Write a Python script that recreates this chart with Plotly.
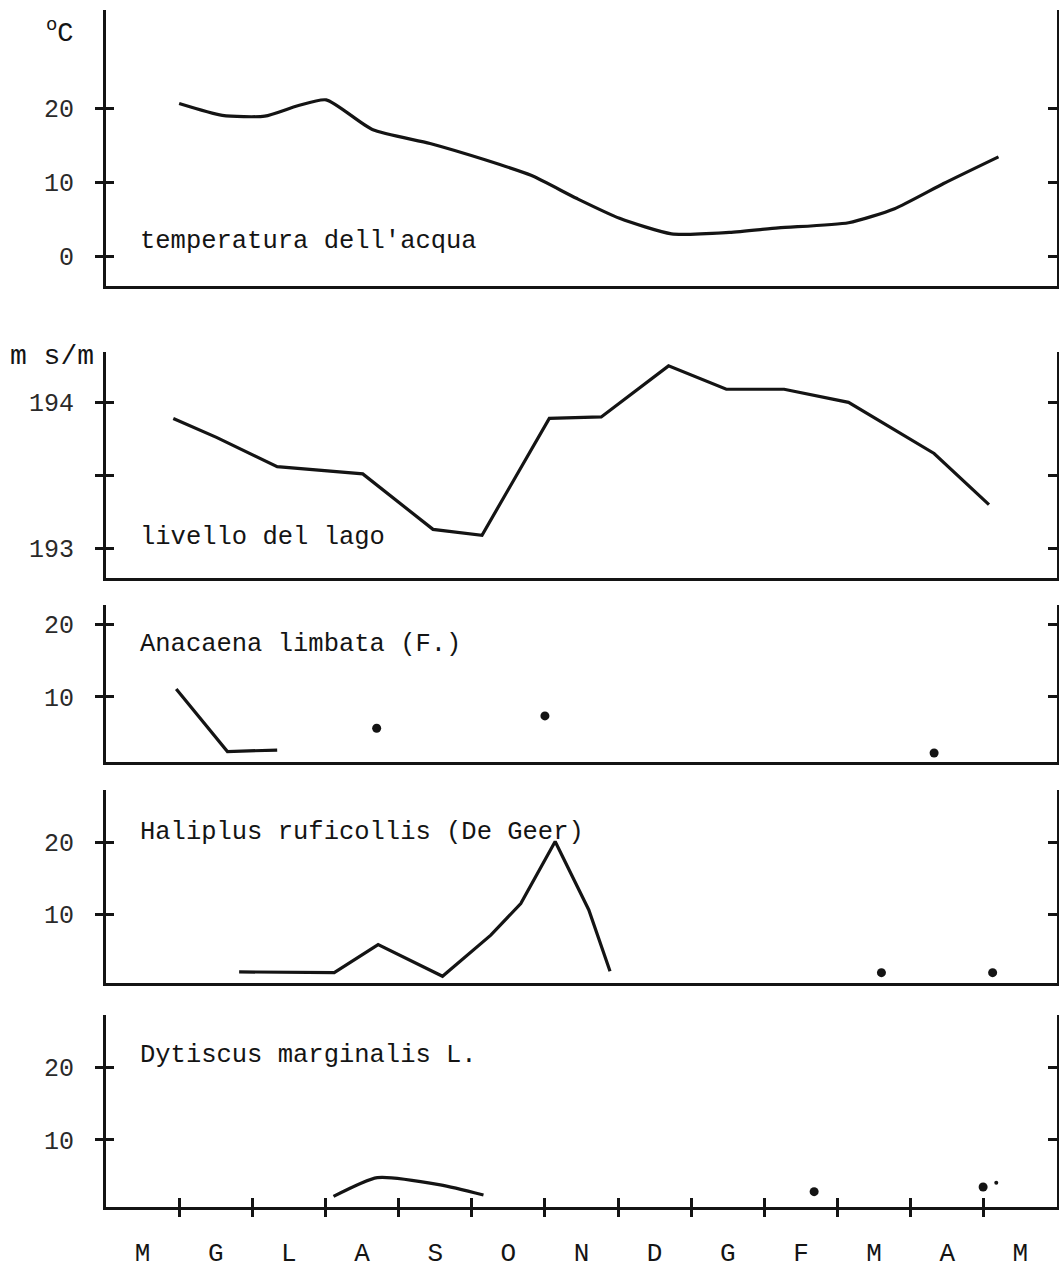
import plotly.graph_objects as go

# ---------------- data ----------------
MONTHS = ["M", "G", "L", "A", "S", "O", "N", "D", "G", "F", "M", "A", "M"]
MONTH_POS = [i + 0.5 for i in range(13)]
BOUNDARIES = list(range(1, 13))

temp_x = [1.00, 1.59, 2.17, 2.62, 3.01, 3.64, 4.43, 5.18, 5.81, 6.43, 7.02, 7.73, 8.52, 9.19, 10.15, 10.78, 11.45, 12.20]
temp_y = [20.6, 19.0, 18.9, 20.3, 21.1, 17.1, 15.2, 13.0, 10.9, 7.8, 5.1, 3.0, 3.2, 3.8, 4.5, 6.4, 9.8, 13.4]

lake_x = [0.92, 1.51, 2.34, 3.51, 4.47, 5.14, 6.06, 6.77, 7.69, 8.48, 9.27, 10.15, 11.32, 12.07]
lake_y = [193.89, 193.76, 193.56, 193.51, 193.13, 193.09, 193.89, 193.90, 194.25, 194.09, 194.09, 194.00, 193.65, 193.30]

ana_line_x = [0.96, 1.66, 2.34]
ana_line_y = [11.1, 2.5, 2.7]
ana_dot_x = [3.70, 6.00, 11.32]
ana_dot_y = [5.7, 7.4, 2.3]

hal_line_x = [1.82, 3.12, 3.72, 4.60, 5.26, 5.67, 6.14, 6.60, 6.89]
hal_line_y = [2.0, 1.9, 5.8, 1.4, 7.1, 11.5, 20.1, 10.6, 2.1]
hal_dot_x = [10.60, 12.12]
hal_dot_y = [1.9, 1.9]

dyt_line_x = [3.11, 3.71, 4.57, 5.16]
dyt_line_y = [2.2, 4.8, 3.8, 2.4]
dyt_dot_x = [9.68, 11.99]
dyt_dot_y = [2.85, 3.5]
dyt_speck_x = [12.17]
dyt_speck_y = [4.1]

# ---------------- layout helpers ----------------
W, H = 1059, 1268
ML, MR = 106, 2
PW = W - ML - MR
INK = "#141414"
FONT = "Liberation Mono"


def ydom(top_px, bot_px):
    return [1 - bot_px / H, 1 - top_px / H]


def px_x(px):
    return (px - ML) / PW


panels = [
    dict(dom=ydom(10, 286), rng=[-4.05, 33.24], tv=[0, 10, 20], tt=["0", "10", "20"],
         label="temperatura dell'acqua", ly=2.0),
    dict(dom=ydom(352, 578), rng=[192.797, 194.345], tv=[193, 193.5, 194], tt=["193", " ", "194"],
         label="livello del lago", ly=193.077),
    dict(dom=ydom(605, 762), rng=[1.06, 22.65], tv=[10, 20], tt=["10", "20"],
         label="Anacaena limbata (F.)", ly=17.15),
    dict(dom=ydom(790, 983), rng=[0.46, 27.26], tv=[10, 20], tt=["10", "20"],
         label="Haliplus ruficollis (De Geer)", ly=21.3),
    dict(dom=ydom(1015, 1207), rng=[0.73, 27.29], tv=[10, 20], tt=["10", "20"],
         label="Dytiscus marginalis L.", ly=21.75),
]

fig = go.Figure()

line_style = dict(color=INK, width=3.2)


def add_line(x, y, i, shape="linear"):
    fig.add_trace(go.Scatter(x=x, y=y, mode="lines", line=dict(**line_style, shape=shape, smoothing=0.6),
                             xaxis=f"x{i}", yaxis=f"y{i}", showlegend=False, hoverinfo="skip"))


def add_dots(x, y, i, size=9):
    fig.add_trace(go.Scatter(x=x, y=y, mode="markers", marker=dict(color=INK, size=size),
                             xaxis=f"x{i}", yaxis=f"y{i}", showlegend=False, hoverinfo="skip"))


add_line(temp_x, temp_y, 1, "spline")
add_line(lake_x, lake_y, 2)
add_line(ana_line_x, ana_line_y, 3)
add_dots(ana_dot_x, ana_dot_y, 3)
add_line(hal_line_x, hal_line_y, 4)
add_dots(hal_dot_x, hal_dot_y, 4)
add_line(dyt_line_x, dyt_line_y, 5, "spline")
add_dots(dyt_dot_x, dyt_dot_y, 5)
add_dots(dyt_speck_x, dyt_speck_y, 5, size=4)

layout = dict(
    width=W, height=H,
    margin=dict(l=ML, r=MR, t=0, b=0),
    paper_bgcolor="white", plot_bgcolor="white",
    showlegend=False,
    font=dict(family=FONT, color=INK, size=24),
)

annotations = []
for i, p in enumerate(panels, start=1):
    sfx = "" if i == 1 else str(i)
    xa = dict(domain=[0, 1], range=[0, 13], anchor=f"y{i}", showline=True, linewidth=3.2,
              linecolor=INK, showgrid=False, zeroline=False, ticks="", showticklabels=False,
              fixedrange=True)
    if i == 5:
        xa.update(tickmode="array", tickvals=MONTH_POS, ticktext=MONTHS, showticklabels=True,
                  tickfont=dict(family=FONT, size=26, color=INK), ticklabelstandoff=20)
    layout[f"xaxis{sfx}"] = xa
    layout[f"yaxis{sfx}"] = dict(
        domain=p["dom"], range=p["rng"], anchor=f"x{i}", showline=True, mirror=True,
        linewidth=3.2, linecolor=INK, showgrid=False, zeroline=False,
        ticks="outside", ticklen=8, tickwidth=3, tickcolor=INK,
        tickmode="array", tickvals=p["tv"], ticktext=p["tt"],
        tickfont=dict(family=FONT, size=25, color="#2a2a2a"), ticklabelstandoff=16,
        fixedrange=True)
    # inner half of the crossing tick on the left
    layout[f"yaxis{5 + i}"] = dict(
        overlaying=f"y{i}", anchor=f"x{i}", side="left", range=p["rng"], showline=False,
        showgrid=False, zeroline=False, ticks="inside", ticklen=8, tickwidth=3, tickcolor=INK,
        tickmode="array", tickvals=p["tv"], showticklabels=False, fixedrange=True)
    # inward ticks on the right-hand axis
    layout[f"yaxis{10 + i}"] = dict(
        overlaying=f"y{i}", anchor=f"x{i}", side="right", range=p["rng"], showline=False,
        showgrid=False, zeroline=False, ticks="inside", ticklen=9, tickwidth=3, tickcolor=INK,
        tickmode="array", tickvals=p["tv"], showticklabels=False, fixedrange=True)
    fig.add_trace(go.Scatter(x=[None], y=[None], xaxis=f"x{i}", yaxis=f"y{5 + i}",
                             showlegend=False, hoverinfo="skip"))
    fig.add_trace(go.Scatter(x=[None], y=[None], xaxis=f"x{i}", yaxis=f"y{10 + i}",
                             showlegend=False, hoverinfo="skip"))
    annotations.append(dict(text=p["label"], x=0.44, y=p["ly"], xref=f"x{i}", yref=f"y{i}",
                            xanchor="left", yanchor="middle", showarrow=False,
                            font=dict(family=FONT, size=25.5, color=INK)))

# month-boundary ticks on the bottom axis (crossing the line)
for k, side_ticks in ((6, "outside"), (7, "inside")):
    layout[f"xaxis{k}"] = dict(
        overlaying="x5", anchor="y5", side="bottom", range=[0, 13], showline=False,
        showgrid=False, zeroline=False, ticks=side_ticks, ticklen=9, tickwidth=3, tickcolor=INK,
        tickmode="array", tickvals=BOUNDARIES, showticklabels=False, fixedrange=True)
    fig.add_trace(go.Scatter(x=[None], y=[None], xaxis=f"x{k}", yaxis="y5",
                             showlegend=False, hoverinfo="skip"))

annotations.append(dict(text="<sup>o</sup>C", x=px_x(60), y=1 - 32 / H, xref="paper", yref="paper",
                        xanchor="center", yanchor="middle", showarrow=False,
                        font=dict(family=FONT, size=27, color=INK)))
annotations.append(dict(text="m s/m", x=px_x(8), y=1 - 356 / H, xref="paper", yref="paper",
                        xanchor="left", yanchor="middle", showarrow=False,
                        font=dict(family=FONT, size=28, color=INK)))
layout["annotations"] = annotations

fig.update_layout(**layout)
fig.write_html(
    "out.html",
    config={"displayModeBar": False},
    post_script="document.body.style.margin='0';document.body.style.overflow='hidden';",
)
